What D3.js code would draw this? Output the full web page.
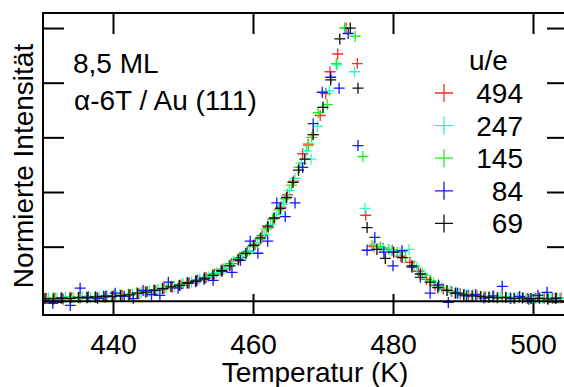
<!DOCTYPE html>
<meta charset="utf-8">
<style>

body {
  margin: 0;
  background: #fff;
}

text {
  font-family: "Liberation Sans", Arial, sans-serif;
  font-size: 28px;
  fill: #000;
}

.frame line {
  stroke: #000;
  stroke-width: 2px;
}

.axis path {
  display: none;
}

.axis line {
  stroke: #000;
  stroke-width: 2px;
}

.axis text {
  font-size: 28px;
}

</style>
<body>
<script src="https://cdn.jsdelivr.net/npm/d3@7"></script>
<script>

// legend labels (u/e) and colours, drawn in this order
var labels = ["494", "247", "145", "84", "69"];
var colors = ["#ff2a2a", "#22ffc4", "#22ee22", "#1515ff", "#111111"];

// [temperature K, normalised intensity]
var s494 = [[430.5,.010],[431.7,.012],[432.9,.008],[434.1,.014],[435.3,.012],[436.5,.018],[437.7,.015],[438.9,.016],
  [440.1,.020],[441.3,.022],[442.5,.025],[443.7,.028],[444.9,.036],[446.1,.040],[447.3,.047],[448.5,.052],
  [449.7,.060],[450.9,.066],[452.1,.078],[453.3,.086],[454.5,.100],[455.7,.118],[456.9,.138],[458.1,.160],
  [459.2,.183],[460.3,.208],[461.3,.240],[462.2,.270],[463.1,.305],[464.0,.345],[464.9,.390],[465.8,.440],
  [466.6,.490],[467.1,.540],[467.9,.575],[468.6,.610],[469.6,.680],[470.4,.760],[471.0,.840],[472.1,.905],
  [473.3,1.00],[474.9,.870],[476.1,.315],[477.3,.200],[478.6,.195],[479.9,.187],[481.1,.165],[482.4,.143],
  [483.6,.110],[484.8,.080],[486.0,.058],[487.2,.045],[488.4,.035],[489.6,.028],[490.8,.022],[492.0,.020],
  [493.2,.017],[494.4,.015],[495.6,.014],[496.8,.012],[498.0,.013],[499.2,.010],[500.4,.012],[501.6,.011],
  [502.8,.010],[504.0,.012]];

var s247 = [[430.8,.012],[432.0,.010],[433.2,.015],[434.4,.013],[435.6,.017],[436.8,.014],[438.0,.018],[439.2,.017],
  [440.4,.022],[441.6,.020],[442.8,.027],[444.0,.032],[445.2,.037],[446.4,.044],[447.6,.050],[448.8,.055],
  [450.0,.064],[451.2,.070],[452.4,.082],[453.6,.090],[454.8,.105],[456.0,.122],[457.2,.145],[458.4,.165],
  [459.5,.185],[460.6,.215],[461.6,.245],[462.5,.280],[463.4,.318],[464.3,.355],[465.2,.405],[466.0,.450],
  [466.9,.505],[467.6,.550],[468.3,.520],[469.2,.640],[470.0,.710],[470.9,.770],[472.0,.865],[473.1,1.00],
  [474.5,.840],[476.0,.340],[477.4,.210],[478.6,.195],[479.8,.185],[481.0,.180],[482.3,.190],[483.4,.125],
  [484.6,.095],[485.8,.068],[487.0,.050],[488.2,.038],[489.4,.030],[490.6,.025],[491.8,.020],[493.0,.018],
  [494.2,.016],[495.4,.018],[496.6,.013],[497.8,.015],[499.0,.012],[500.2,.014],[501.4,.010],[502.6,.013],
  [503.8,.011]];

var s145 = [[430.2,.008],[431.4,.013],[432.6,.011],[433.8,.016],[435.0,.012],[436.2,.017],[437.4,.016],[438.6,.020],
  [439.8,.018],[441.0,.024],[442.2,.026],[443.4,.031],[444.6,.035],[445.8,.043],[447.0,.048],[448.2,.056],
  [449.4,.060],[450.6,.070],[451.8,.076],[453.0,.088],[454.2,.098],[455.4,.115],[456.6,.132],[457.8,.155],
  [458.9,.178],[460.0,.200],[461.0,.228],[461.9,.265],[462.8,.300],[463.7,.335],[464.6,.375],[465.5,.425],
  [466.6,.490],[467.9,.570],[468.4,.600],[469.3,.690],[470.6,.720],[471.9,.870],[473.1,1.00],[474.6,.970],
  [475.7,.530],[477.0,.205],[478.2,.200],[479.4,.190],[480.6,.180],[481.8,.160],[483.0,.130],[484.2,.100],
  [485.4,.075],[486.6,.055],[487.8,.040],[489.0,.032],[490.2,.026],[491.4,.022],[492.6,.017],[493.8,.016],
  [495.0,.014],[496.2,.015],[497.4,.011],[498.6,.014],[499.8,.010],[501.0,.012],[502.2,.009],[503.4,.012]];

var s84 = [[430.0,.004],[431.4,-.007],[432.6,.012],[433.9,-.015],[435.3,.048],[436.4,.015],[437.8,.010],[439.0,.020],
  [440.3,.030],[441.6,.018],[442.9,.010],[444.3,.040],[445.5,.025],[446.7,.022],[447.9,.070],[449.3,.048],
  [450.6,.066],[451.8,.072],[453.0,.080],[454.3,.077],[455.6,.110],[457.0,.106],[458.2,.150],[459.6,.220],
  [460.7,.176],[462.1,.220],[463.4,.360],[464.6,.310],[466.0,.360],[467.1,.490],[468.6,.650],[469.9,.765],
  [471.1,.820],[472.3,.780],[473.6,.980],[475.0,.570],[476.3,.187],[477.4,.234],[478.7,.180],[480.0,.130],
  [481.3,.185],[482.7,.125],[483.9,.088],[485.3,.030],[486.5,.060],[487.9,-.004],[489.2,.030],[490.5,.020],
  [491.8,.025],[493.0,.012],[494.3,.020],[495.6,.055],[496.8,.010],[498.1,.018],[499.4,.008],[500.7,.022],
  [502.0,.033],[503.2,.010]];

var s69 = [[430.3,.010],[431.5,.009],[432.7,.012],[433.9,.011],[435.1,.014],[436.3,.013],[437.5,.016],[438.7,.017],
  [439.9,.018],[441.1,.021],[442.3,.024],[443.5,.030],[444.7,.034],[445.9,.040],[447.1,.046],[448.3,.053],
  [449.5,.058],[450.7,.068],[451.9,.075],[453.1,.085],[454.3,.095],[455.5,.112],[456.7,.130],[457.9,.152],
  [459.0,.175],[460.1,.205],[461.1,.232],[462.1,.275],[463.0,.305],[463.9,.340],[464.8,.380],[465.7,.435],
  [466.5,.480],[467.4,.520],[468.6,.610],[470.0,.710],[471.1,.810],[472.4,.960],[473.9,1.00],[475.0,.780],
  [476.3,.270],[477.7,.190],[478.9,.157],[480.1,.180],[481.3,.160],[482.7,.130],[483.9,.100],[485.3,.070],
  [486.4,.050],[487.7,.040],[488.9,.030],[490.1,.024],[491.3,.020],[492.5,.018],[493.7,.015],[494.9,.013],
  [496.1,.014],[497.3,.011],[498.5,.012],[499.7,.010],[500.9,.011],[502.1,.009],[503.3,.012]];

var series = [s494, s247, s145, s84, s69];

var xTicks = [440, 460, 480, 500];
var yTicks = [0, 0.2, 0.4, 0.6, 0.8, 1.0];

var width = 564,
    height = 387;

var x = d3.scaleLinear().domain([430, 505]).range([43, 568]);
var y = d3.scaleLinear().domain([-0.05, 1.055]).range([315, 13]);

var svg = d3.select("body").append("svg")
    .attr("width", width)
    .attr("height", height);

svg.append("clipPath").attr("id", "clip")
  .append("rect")
    .attr("x", 43).attr("y", 13)
    .attr("width", 525).attr("height", 302);

// a "+" marker centred on 0,0
function cross(r) {
  return "M" + (-r) + ",0H" + r + "M0," + (-r) + "V" + r;
}

// ticks on all four sides, pointing inward
svg.append("g").attr("class", "axis")
    .attr("transform", "translate(0,315)")
    .call(d3.axisBottom(x).tickValues(xTicks).tickSize(-21).tickSizeOuter(0).tickPadding(19))
    .selectAll("text").attr("dy", "0.71em");

svg.append("g").attr("class", "axis")
    .attr("transform", "translate(0,13)")
    .call(d3.axisTop(x).tickValues(xTicks).tickSize(-21).tickSizeOuter(0).tickFormat(""));

svg.append("g").attr("class", "axis")
    .attr("transform", "translate(43,0)")
    .call(d3.axisLeft(y).tickValues(yTicks).tickSize(-21).tickSizeOuter(0).tickFormat(""));

svg.append("g").attr("class", "axis")
    .attr("transform", "translate(568,0)")
    .call(d3.axisRight(y).tickValues(yTicks).tickSize(-21).tickSizeOuter(0).tickFormat(""));

// markers
var plot = svg.append("g").attr("clip-path", "url(#clip)");

plot.selectAll("g.series")
    .data(series)
  .enter().append("g")
    .attr("class", "series")
    .attr("stroke", function(d, i) { return colors[i]; })
    .attr("stroke-width", 1.3)
    .attr("fill", "none")
  .selectAll("path")
    .data(function(d) { return d; })
  .enter().append("path")
    .attr("transform", function(d) { return "translate(" + x(d[0]) + "," + y(d[1]) + ")"; })
    .attr("d", cross(5.5));

// frame and zero line
var frame = svg.append("g").attr("class", "frame");
frame.append("line").attr("x1", 43).attr("x2", 568).attr("y1", 13).attr("y2", 13);
frame.append("line").attr("x1", 43).attr("x2", 568).attr("y1", 315).attr("y2", 315);
frame.append("line").attr("x1", 43).attr("x2", 43).attr("y1", 12).attr("y2", 316);
frame.append("line").attr("x1", 43).attr("x2", 568).attr("y1", y(0)).attr("y2", y(0));

// axis titles
svg.append("text")
    .attr("x", 315).attr("y", 382)
    .attr("text-anchor", "middle")
    .text("Temperatur (K)");

svg.append("text")
    .attr("transform", "translate(33,166) rotate(-90)")
    .attr("text-anchor", "middle")
    .text("Normierte Intensität");

// sample note
svg.append("text").attr("x", 73).attr("y", 73).text("8,5 ML");
svg.append("text").attr("x", 74).attr("y", 110).text("α-6T / Au (111)");

// legend
svg.append("text").attr("x", 469).attr("y", 70).text("u/e");

var legend = svg.selectAll("g.legend")
    .data(labels)
  .enter().append("g")
    .attr("class", "legend")
    .attr("transform", function(d, i) { return "translate(0," + (103 + i * 32.6) + ")"; });

legend.append("path")
    .attr("transform", "translate(444,-10)")
    .attr("d", cross(9))
    .attr("fill", "none")
    .attr("stroke-width", 1.3)
    .attr("stroke", function(d, i) { return colors[i]; });

legend.append("text")
    .attr("x", 523)
    .attr("text-anchor", "end")
    .text(function(d) { return d; });

</script>
